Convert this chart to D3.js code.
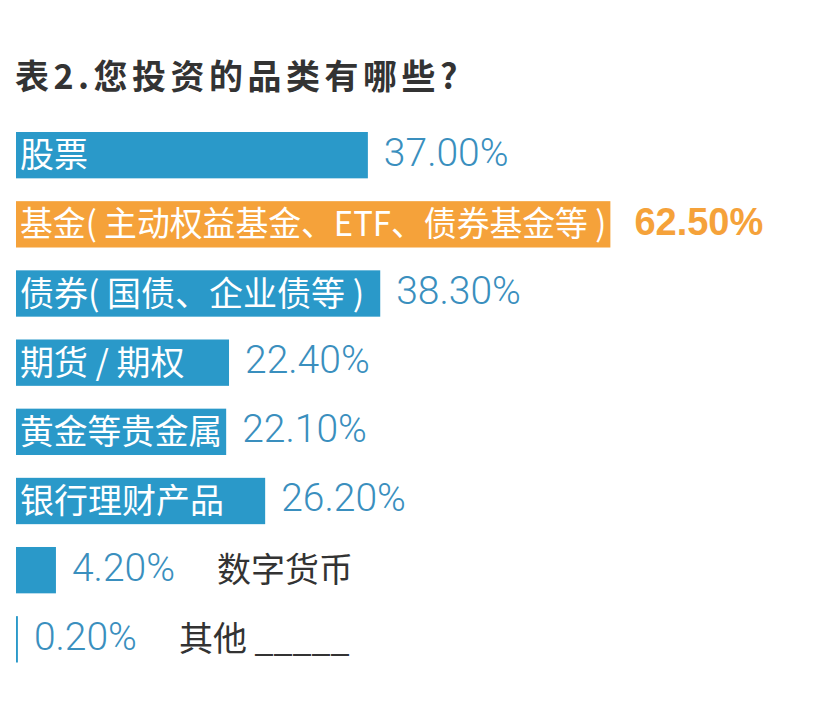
<!DOCTYPE html>
<html>
<head>
<meta charset="utf-8">
<script src="https://cdn.jsdelivr.net/npm/d3@7"></script>
<style>
  html, body { margin: 0; padding: 0; background: #ffffff; }
  svg { display: block; }
</style>
</head>
<body>
<svg id="chart" width="834" height="718"></svg>
<script>
const title = "表2.您投资的品类有哪些?";
const categories = ["股票", "基金( 主动权益基金、ETF、债券基金等 )", "债券( 国债、企业债等 )", "期货 / 期权", "黄金等贵金属", "银行理财产品", "数字货币", "其他 _____"];
const values = [37.0, 62.5, 38.3, 22.4, 22.1, 26.2, 4.2, 0.2];
const valueLabels = ["37.00%", "62.50%", "38.30%", "22.40%", "22.10%", "26.20%", "4.20%", "0.20%"];
const highlighted = ["基金( 主动权益基金、ETF、债券基金等 )"];

const svg = d3.select("#chart");
const cjk = "'Noto Sans CJK SC', 'Noto Sans', sans-serif";
const latin = "Roboto, 'Liberation Sans', Arial, sans-serif";
const latinBold = "'Liberation Sans', Arial, sans-serif";

const x = d3.scaleLinear().domain([0, 100]).range([16, 967]);
const y = d3.scaleBand().domain(categories).range([132, 662.5]).paddingInner(0.33).paddingOuter(0);

const blue = "#2a99c9", orange = "#f5a23a", valBlue = "#3a8fbe";

svg.append("text")
  .attr("x", 15).attr("y", 89)
  .attr("font-family", cjk).attr("font-weight", "bold")
  .attr("font-size", 34).attr("letter-spacing", 4.5)
  .attr("fill", "#333333")
  .text(title);

const data = categories.map((c, i) => ({ cat: c, v: values[i], lbl: valueLabels[i], hi: highlighted.includes(c) }));

const g = svg.selectAll("g.row").data(data).join("g").attr("class", "row");

g.append("rect")
  .attr("x", x(0))
  .attr("y", d => y(d.cat))
  .attr("width", d => Math.max(1.5, x(d.v) - x(0)))
  .attr("height", y.bandwidth())
  .attr("fill", d => d.hi ? orange : blue);

g.each(function(d) {
  const row = d3.select(this);
  const cy = y(d.cat) + y.bandwidth() / 2;
  const barEnd = x(d.v);
  const barW = barEnd - x(0);
  const inside = d.v >= 10;
  const inner = row.append("text")
    .attr("font-family", cjk).attr("font-size", 34)
    .attr("y", cy + 12)
    .text(d.cat);
  const gap = d.hi ? 24 : 16;
  const val = row.append("text")
    .attr("x", barEnd + gap)
    .attr("y", cy + 10.5)
    .attr("font-family", d.hi ? latinBold : latin)
    .attr("font-size", d.hi ? 38 : 39)
    .attr("font-weight", d.hi ? "bold" : 300)
    .attr("fill", d.hi ? orange : valBlue)
    .text(d.lbl);
  if (inside) {
    inner.attr("x", x(0) + 4).attr("fill", "#ffffff");
    const w = inner.node().getComputedTextLength();
    if (w > barW - 8) {
      inner.attr("textLength", barW - 8).attr("lengthAdjust", "spacingAndGlyphs");
    }
  } else {
    const vw = val.node().getComputedTextLength();
    inner.attr("x", barEnd + gap + vw + 42).attr("fill", "#333333");
  }
});
</script>
</body>
</html>
